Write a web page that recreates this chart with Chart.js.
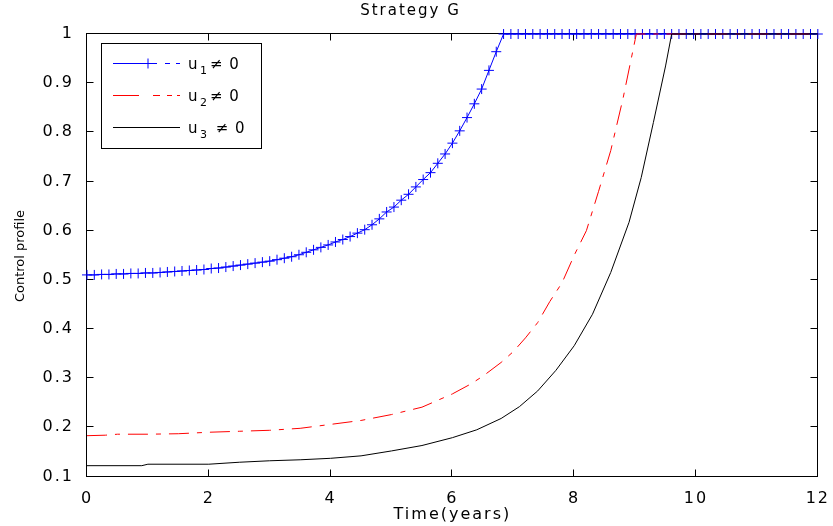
<!DOCTYPE html>
<html>
<head>
<meta charset="utf-8">
<script src="https://cdn.jsdelivr.net/npm/chart.js@4.4.1/dist/chart.umd.min.js"></script>
<style>
  html, body { margin: 0; padding: 0; background: #fff; }
  canvas { display: block; }
</style>
</head>
<body>
<canvas id="chart" width="833" height="526"></canvas>
<script>
// time steps of the marked u1 curve (years)
const u1Time = [
  0, 0.12, 0.24, 0.36, 0.48, 0.6, 0.72, 0.84, 0.96, 1.08,
  1.2, 1.32, 1.44, 1.56, 1.68, 1.8, 1.92, 2.04, 2.16, 2.28,
  2.4, 2.52, 2.64, 2.76, 2.88, 3, 3.12, 3.24, 3.36, 3.48,
  3.6, 3.72, 3.84, 3.96, 4.08, 4.2, 4.32, 4.44, 4.56, 4.68,
  4.8, 4.92, 5.04, 5.16, 5.28, 5.4, 5.52, 5.64, 5.76, 5.88,
  6, 6.12, 6.24, 6.36, 6.48, 6.6, 6.72, 6.84, 6.96, 7.08,
  7.2, 7.32, 7.44, 7.56, 7.68, 7.8, 7.92, 8.04, 8.16, 8.28,
  8.4, 8.52, 8.64, 8.76, 8.88, 9, 9.12, 9.24, 9.36, 9.48,
  9.6, 9.72, 9.84, 9.96, 10.08, 10.2, 10.32, 10.44, 10.56, 10.68,
  10.8, 10.92, 11.04, 11.16, 11.28, 11.4, 11.52, 11.64, 11.76, 11.88,
  12
];
const u1 = [
  0.510, 0.510, 0.511, 0.511, 0.512, 0.512, 0.513, 0.513, 0.514, 0.514,
  0.515, 0.516, 0.517, 0.518, 0.519, 0.520, 0.521, 0.523, 0.524, 0.526,
  0.528, 0.530, 0.532, 0.534, 0.536, 0.538, 0.541, 0.544, 0.547, 0.551,
  0.556, 0.561, 0.566, 0.571, 0.577, 0.582, 0.588, 0.595, 0.602, 0.612,
  0.624, 0.638, 0.648, 0.662, 0.674, 0.689, 0.704, 0.718, 0.737, 0.756,
  0.778, 0.803, 0.830, 0.858, 0.888, 0.926, 0.964, 1, 1, 1,
  1, 1, 1, 1, 1, 1, 1, 1, 1, 1,
  1, 1, 1, 1, 1, 1, 1, 1, 1, 1,
  1, 1, 1, 1, 1, 1, 1, 1, 1, 1,
  1, 1, 1, 1, 1, 1, 1, 1, 1, 1,
  1
];

const u2Time = [0, 0.3, 0.5, 1, 1.5, 2, 2.5, 3, 3.5, 4, 4.5, 5, 5.5, 6, 6.3, 6.5, 6.8,
  7, 7.2, 7.4, 7.6, 7.8, 8, 8.2, 8.4, 8.6, 8.8, 9, 9.02, 12];
const u2 = [0.183, 0.184, 0.186, 0.186, 0.187, 0.190, 0.192, 0.194, 0.198, 0.206, 0.214, 0.226, 0.241, 0.268, 0.288, 0.304, 0.332,
  0.354, 0.382, 0.413, 0.456, 0.494, 0.550, 0.600, 0.680, 0.763, 0.868, 0.988, 1, 1];

const u3Time = [0, 0.9, 1, 2, 2.5, 3, 3.5, 4, 4.5, 5, 5.5, 6, 6.4, 6.8, 7.1, 7.4, 7.7,
  8, 8.3, 8.6, 8.9, 9.1, 9.3, 9.5, 9.6, 12];
const u3 = [0.122, 0.122, 0.125, 0.125, 0.129, 0.132, 0.134, 0.137, 0.142, 0.152, 0.163, 0.179, 0.195, 0.218, 0.242, 0.274, 0.316,
  0.366, 0.430, 0.515, 0.617, 0.708, 0.820, 0.935, 1, 1];

// legend text: name, subscript, rest
const seriesNames = ['u', 'u', 'u'];
const seriesSubs = ['1', '2', '3'];
const seriesRest = ['\u2260 0', '\u2260 0', ' \u2260 0'];
const xTicks = [0, 2, 4, 6, 8, 10, 12];
const yTicks = [0.1, 0.2, 0.3, 0.4, 0.5, 0.6, 0.7, 0.8, 0.9, 1];

const subChars = { '1': '\u2081', '2': '\u2082', '3': '\u2083' };
const toPoints = (xs, ys) => xs.map((x, i) => ({ x: x, y: ys[i] }));

Chart.defaults.font.family = "'DejaVu Sans', sans-serif";
Chart.defaults.color = '#000';

// MATLAB style box with inward ticks, legend and y title
const boxPlugin = {
  id: 'box',
  beforeDraw(chart) {
    chart.ctx.letterSpacing = '2px';
  },
  beforeDatasetsDraw(chart) {
    const { ctx, chartArea: a, scales } = chart;
    const L = Math.round(a.left) - 0.5, R = Math.round(a.right) - 0.5;
    const T = Math.round(a.top) - 0.5, B = Math.round(a.bottom) - 0.5;
    ctx.save();
    ctx.strokeStyle = '#000';
    ctx.lineWidth = 1;
    ctx.strokeRect(L, T, R - L, B - T);
    ctx.beginPath();
    xTicks.forEach(v => {
      const x = Math.round(scales.x.getPixelForValue(v)) - 0.5;
      ctx.moveTo(x, B); ctx.lineTo(x, B - 7);
      ctx.moveTo(x, T); ctx.lineTo(x, T + 7);
    });
    yTicks.forEach(v => {
      const y = Math.round(scales.y.getPixelForValue(v)) - 0.5;
      ctx.moveTo(L, y); ctx.lineTo(L + 7, y);
      ctx.moveTo(R, y); ctx.lineTo(R - 7, y);
    });
    ctx.stroke();
    ctx.restore();
  },
  afterDraw(chart) {
    const ctx = chart.ctx;
    const ds = chart.data.datasets;
    ctx.save();
    ctx.letterSpacing = '0px';
    // y axis title
    ctx.save();
    ctx.translate(21, 256);
    ctx.rotate(-Math.PI / 2);
    ctx.font = "13px 'DejaVu Sans'";
    ctx.fillStyle = '#000';
    ctx.textAlign = 'center';
    ctx.textBaseline = 'middle';
    ctx.fillText('Control profile', 0, 0);
    ctx.restore();

    // legend
    ctx.fillStyle = '#fff';
    ctx.fillRect(101.5, 43.5, 160, 105);
    ctx.strokeStyle = '#000';
    ctx.lineWidth = 1;
    ctx.strokeRect(101.5, 43.5, 160, 105);
    const rows = [63.5, 95.5, 127.5];
    const segs = [
      [[113, 157], [165, 170], [176, 180]],
      [[113, 139], [153, 160], [167, 172], [177, 180]],
      [[113, 180]]
    ];
    ds.forEach((d, i) => {
      const y = rows[i];
      ctx.strokeStyle = d.borderColor;
      ctx.beginPath();
      segs[i].forEach(s => { ctx.moveTo(s[0], y); ctx.lineTo(s[1], y); });
      ctx.stroke();
      if (d.pointRadius > 0) {
        ctx.beginPath();
        ctx.moveTo(148 - 5, y); ctx.lineTo(148 + 5, y);
        ctx.moveTo(148, y - 5); ctx.lineTo(148, y + 5);
        ctx.stroke();
      }
      ctx.fillStyle = '#000';
      ctx.textAlign = 'left';
      ctx.textBaseline = 'alphabetic';
      const base = y + 5.5;
      ctx.font = "15px 'DejaVu Sans'";
      ctx.letterSpacing = '1px';
      ctx.fillText(seriesNames[i], 188, base);
      ctx.font = "11px 'DejaVu Sans'";
      ctx.fillText(seriesSubs[i], 200, base + 5);
      ctx.font = "15px 'DejaVu Sans'";
      ctx.fillText(seriesRest[i], 210, base);
      ctx.letterSpacing = '0px';
    });
    ctx.restore();
  }
};

new Chart(document.getElementById('chart').getContext('2d'), {
  type: 'line',
  data: {
    datasets: [
      {
        label: seriesNames[0] + subChars[seriesSubs[0]] + seriesRest[0],
        data: toPoints(u1Time, u1),
        borderColor: '#0000ff',
        borderWidth: 1,
        pointStyle: 'cross',
        pointRadius: 5,
        pointBorderColor: '#0000ff',
        pointBorderWidth: 1,
        order: 3,
        clip: false
      },
      {
        label: seriesNames[1] + subChars[seriesSubs[1]] + seriesRest[1],
        data: toPoints(u2Time, u2),
        borderColor: '#ff0000',
        borderWidth: 1,
        borderDash: [20, 8, 5, 8],
        pointRadius: 0,
        order: 2,
        clip: false
      },
      {
        label: seriesNames[2] + subChars[seriesSubs[2]] + seriesRest[2],
        data: toPoints(u3Time, u3),
        borderColor: '#000000',
        borderWidth: 1,
        pointRadius: 0,
        order: 1,
        clip: false
      }
    ]
  },
  options: {
    responsive: false,
    animation: false,
    layout: { padding: { left: 0, right: 12, top: 0, bottom: 0 } },
    scales: {
      x: {
        type: 'linear',
        min: 0,
        max: 12,
        afterBuildTicks: s => { s.ticks = xTicks.map(v => ({ value: v })); },
        afterFit: s => { s.height = 49.5; },
        ticks: { font: { size: 16 }, padding: 5, maxRotation: 0 },
        grid: { display: false },
        border: { display: false },
        title: { display: true, text: 'Time(years)', font: { size: 16 }, padding: { top: 0, bottom: 2 } }
      },
      y: {
        min: 0.1,
        max: 1,
        afterBuildTicks: s => { s.ticks = yTicks.map(v => ({ value: v })); },
        afterFit: s => { s.width = 87; },
        ticks: { font: { size: 16 }, padding: 5, callback: v => String(+v.toFixed(1)) },
        grid: { display: false },
        border: { display: false }
      }
    },
    plugins: {
      legend: { display: false },
      tooltip: { enabled: false },
      title: {
        display: true,
        text: 'Strategy G',
        font: { size: 15, weight: 'normal' },
        padding: { top: 2, bottom: 14 }
      }
    }
  },
  plugins: [boxPlugin]
});
</script>
</body>
</html>
